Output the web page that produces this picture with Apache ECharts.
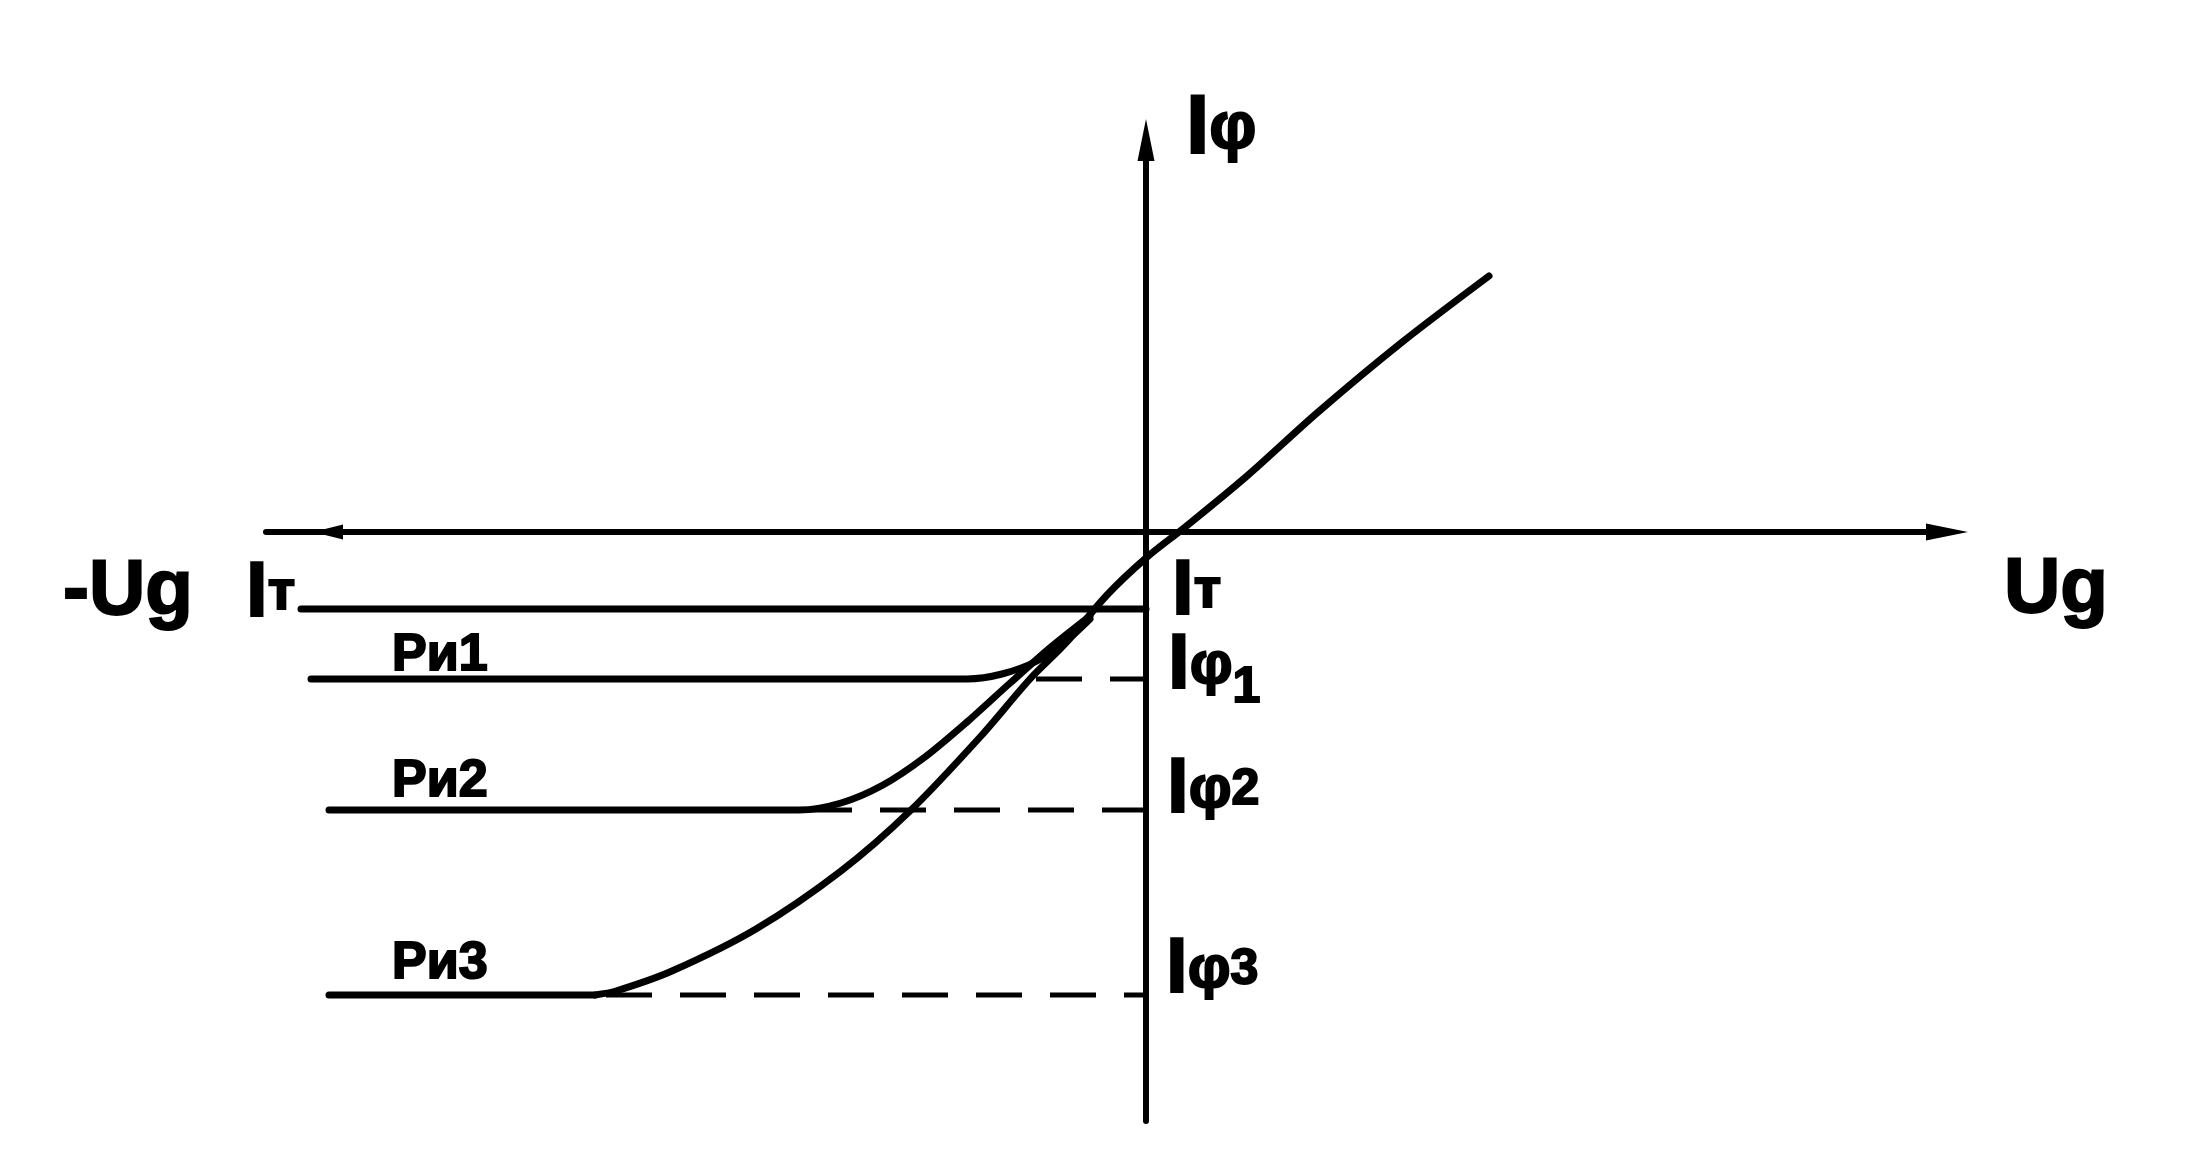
<!DOCTYPE html>
<html><head><meta charset="utf-8">
<script src="https://cdn.jsdelivr.net/npm/echarts@6.0.0/dist/echarts.min.js"></script>
<style>html,body{margin:0;padding:0;background:#fff}#c{width:2197px;height:1154px}</style>
</head><body><div id="c"></div>
<script>
// ---- Data (arbitrary units: Ug horizontal, I vertical, origin at axes crossing) ----
const ugAxisLeft = -8.80, ugAxisRight = 8.22;
const iAxisBottom = -5.89, iAxisTop = 4.13;

// Main characteristic I(Ug)
const mainUg = [-5.51, -5.30, -4.74, -3.90, -3.05, -2.35, -1.65, -1.16, -0.81, -0.39, 0.00, 0.38, 1.01, 1.71, 2.55, 3.43];
const mainI  = [-4.63, -4.59, -4.39, -3.97, -3.39, -2.78, -2.04, -1.47, -1.12, -0.63, -0.26, 0.04, 0.56, 1.19, 1.89, 2.56];

// Levels
const levelIt = -0.77, levelIf1 = -1.47, levelIf2 = -2.78, levelIf3 = -4.63;
const itStartUg = -8.45;

// Pи1 curve (flat part then rising to the main curve)
const p1Ug = [-8.35, -1.79, -1.44, -1.09, -0.81, -0.56];
const p1I  = [-1.47, -1.47, -1.42, -1.29, -1.10, -0.87];
const p1DashFrom = -1.10;

// Pи2 curve
const p2Ug = [-8.17, -3.47, -3.05, -2.63, -2.21, -1.79, -1.37, -0.95, -0.56];
const p2I  = [-2.78, -2.78, -2.71, -2.53, -2.25, -1.90, -1.52, -1.15, -0.84];
const p2DashFrom = -3.40;

// Pи3 flat part (continues into main curve)
const p3Ug = [-8.17, -5.51];
const p3I  = [-4.63, -4.63];
const p3DashFrom = -5.40;

// Texts
const labelTexts = {
  yName: 'Iφ', xName: 'Ug', xNeg: '-Ug', itLeft: 'Iт', itRight: 'Iт',
  if1: 'Iφ1', if2: 'Iφ2', if3: 'Iφ3', p1: 'Pи1', p2: 'Pи2', p3: 'Pи3'
};

// ---- Layout / styles (not data) ----
const labelAnchors = {
  yName: [0.40, 4.02], xName: [8.58, -0.58], xNeg: [-10.83, -0.60], itLeft: [-9.00, -0.62],
  itRight: [0.26, -0.60], if1: [0.22, -1.34], if2: [0.21, -2.58], if3: [0.20, -4.38],
  p1: [-7.54, -1.24], p2: [-7.54, -2.50], p3: [-7.54, -4.32]
};

function zip(a, b) { return a.map((v, i) => [v, b[i]]); }
const black = '#000000';
const solid = { color: black, width: 7, cap: 'round', join: 'round' };
const axisStyle = { color: black, width: 6, cap: 'round', join: 'round' };
const dashed = { color: black, width: 5, type: [46, 28], cap: 'butt' };

function richFor(key, t) {
  if (key.startsWith('p')) return '{p|' + t + '}';
  const first = t[0], rest = t.slice(1);
  if (key === 'xName' || key === 'xNeg') return '{b|' + t + '}';
  if (key === 'yName') return '{bt|' + first + '}{ft|' + rest + '}';
  if (rest === 'т') return '{b|I}{t|т}';
  if (rest.length === 1) return '{b|' + first + '}{f|' + rest + '}';
  const subStyle = key === 'if1' ? 'sl' : 's';
  return '{b|' + first + '}{f|' + rest[0] + '}{' + subStyle + '|' + rest.slice(1) + '}';
}

const labelData = Object.keys(labelTexts).map(k => ({
  value: labelAnchors[k],
  label: { formatter: richFor(k, labelTexts[k]) }
}));

const txt = (size, extra) => Object.assign({ fontSize: size, fontWeight: 'bold', fontFamily: 'Liberation Sans',
  color: black, opacity: 1, textBorderColor: black, textBorderWidth: 2 }, extra || {});

const series = [
  // axes
  { type: 'line', data: [[ugAxisLeft, 0], [ugAxisRight - 0.3, 0]], lineStyle: axisStyle, symbol: 'none' },
  { type: 'line', data: [[0, iAxisBottom], [0, iAxisTop - 0.3]], lineStyle: axisStyle, symbol: 'none' },
  { type: 'scatter', symbol: 'triangle', symbolSize: [17, 42], itemStyle: { color: black, opacity: 1 },
    data: [
      { value: [ugAxisRight - 0.21, 0], symbolRotate: -90 },
      { value: [ugAxisLeft + 0.62, 0], symbolRotate: 90, symbolSize: [15, 30] },
      { value: [0, iAxisTop - 0.21], symbolRotate: 0 }
    ] },
  // main curve
  { type: 'line', data: zip(mainUg, mainI), smooth: 0.3, lineStyle: solid, symbol: 'none' },
  // It level
  { type: 'line', data: [[itStartUg, levelIt], [0, levelIt]], lineStyle: solid, symbol: 'none' },
  // P curves
  { type: 'line', data: zip(p1Ug, p1I), smooth: 0.3, lineStyle: solid, symbol: 'none' },
  { type: 'line', data: zip(p2Ug, p2I), smooth: 0.3, lineStyle: solid, symbol: 'none' },
  { type: 'line', data: zip(p3Ug, p3I), lineStyle: solid, symbol: 'none' },
  // dashed levels
  { type: 'line', data: [[p1DashFrom, levelIf1], [0, levelIf1]], lineStyle: dashed, symbol: 'none' },
  { type: 'line', data: [[p2DashFrom, levelIf2], [0, levelIf2]], lineStyle: dashed, symbol: 'none' },
  { type: 'line', data: [[p3DashFrom, levelIf3], [0, levelIf3]], lineStyle: dashed, symbol: 'none' },
  // texts
  { type: 'scatter', symbolSize: 0, data: labelData, itemStyle: { color: black, opacity: 1 },
    label: { show: true, position: 'right', distance: 0, color: black, opacity: 1, verticalAlign: 'middle',
      fontFamily: 'Liberation Sans', fontWeight: 'bold',
      rich: {
        b: txt(78),
        bt: txt(84),
        f: txt(60),
        ft: txt(66),
        s: txt(50),
        sl: txt(50, { padding: [44, 0, 0, 0] }),
        t: txt(56),
        p: txt(52)
      } } }
];

const chart = echarts.init(document.getElementById('c'));
chart.setOption({
  backgroundColor: '#fff',
  animation: false,
  grid: { left: 0, right: 0, top: 0, bottom: 0 },
  xAxis: { type: 'value', min: -11.46, max: 10.51, show: false },
  yAxis: { type: 'value', min: -6.22, max: 5.32, show: false },
  series: series.map(s => Object.assign({ silent: true }, s))
});
</script></body></html>
